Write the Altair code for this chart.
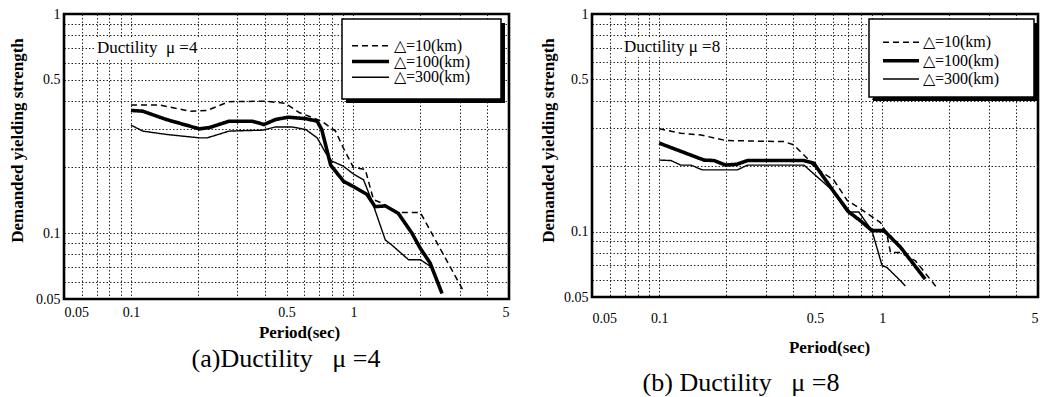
import altair as alt
import pandas as pd

SERIES = ["△=10(km)", "△=100(km)", "△=300(km)"]

# Panel (a) Ductility mu=4
A_T10 = [0.1, 0.135, 0.184, 0.22, 0.276, 0.4, 0.495, 0.57, 0.72, 0.83, 0.9, 1.0, 1.13, 1.23, 1.34, 1.59, 2.0, 3.1]
A_S10 = [0.384, 0.384, 0.36, 0.363, 0.398, 0.40, 0.391, 0.355, 0.324, 0.292, 0.245, 0.199, 0.195, 0.142, 0.137, 0.124, 0.124, 0.055]
A_T100 = [0.1, 0.113, 0.144, 0.203, 0.225, 0.276, 0.351, 0.396, 0.447, 0.51, 0.61, 0.687, 0.72, 0.79, 0.904, 1.0, 1.15, 1.25, 1.39, 1.59, 1.83, 2.0, 2.21, 2.5]
A_S100 = [0.363, 0.36, 0.33, 0.299, 0.303, 0.324, 0.324, 0.313, 0.33, 0.338, 0.333, 0.324, 0.297, 0.204, 0.172, 0.163, 0.150, 0.132, 0.133, 0.123, 0.1, 0.085, 0.073, 0.053]
A_T300 = [0.1, 0.113, 0.144, 0.203, 0.22, 0.276, 0.39, 0.447, 0.53, 0.61, 0.687, 0.75, 0.80, 0.90, 1.0, 1.11, 1.21, 1.39, 1.49, 1.77, 2.0, 2.24, 2.5]
A_S300 = [0.311, 0.292, 0.282, 0.272, 0.272, 0.292, 0.295, 0.305, 0.305, 0.297, 0.272, 0.232, 0.213, 0.202, 0.186, 0.175, 0.140, 0.093, 0.088, 0.0755, 0.0755, 0.070, 0.053]

# Panel (b) Ductility mu=8
B_T10 = [0.1, 0.125, 0.154, 0.199, 0.363, 0.402, 0.461, 0.494, 0.608, 0.697, 0.80, 0.983, 1.05, 1.09, 1.21, 1.41, 1.76]
B_S10 = [0.297, 0.283, 0.278, 0.262, 0.259, 0.250, 0.217, 0.199, 0.172, 0.139, 0.127, 0.110, 0.0975, 0.080, 0.080, 0.0734, 0.0552]
B_T100 = [0.1, 0.159, 0.176, 0.199, 0.224, 0.249, 0.446, 0.494, 0.608, 0.709, 0.80, 0.90, 1.02, 1.21, 1.56]
B_S100 = [0.255, 0.213, 0.212, 0.202, 0.204, 0.212, 0.212, 0.206, 0.152, 0.123, 0.112, 0.101, 0.101, 0.0846, 0.0604]
B_T300 = [0.1, 0.113, 0.125, 0.139, 0.156, 0.224, 0.249, 0.446, 0.597, 0.697, 0.786, 0.90, 1.0, 1.05, 1.21, 1.27]
B_S300 = [0.213, 0.212, 0.202, 0.202, 0.192, 0.192, 0.202, 0.202, 0.155, 0.123, 0.123, 0.101, 0.0696, 0.0684, 0.0593, 0.0562]

X_GRID = [0.05, 0.06, 0.07, 0.08, 0.09, 0.1, 0.2, 0.3, 0.4, 0.5, 0.6, 0.7, 0.8, 0.9, 1, 2, 3, 4, 5]
X_LABELS = [0.05, 0.1, 0.5, 1, 5]
Y_GRID = [0.05, 0.06, 0.07, 0.08, 0.09, 0.1, 0.2, 0.3, 0.4, 0.5, 0.6, 0.7, 0.8, 0.9, 1]
Y_LABELS = [0.05, 0.1, 0.5, 1]

SERIF = "Liberation Serif"
DASHES = [[6, 4], [1, 0], [1, 0]]
WIDTHS = [1.5, 3.6, 1.4]
NB = "\u00a0"

AXIS_STYLE = dict(domain=False, ticks=False, grid=True, gridColor="#111", gridDash=[1.5, 2],
                  gridWidth=1, gridOpacity=0.9,
                  labelFont=SERIF, labelFontSize=14, labelColor="black",
                  titleFont=SERIF, titleFontSize=17, titleFontWeight="bold", titleColor="black")


def panel(ts, ss, w, h, caption, cap_x, cap_y, inner, inner_box, leg, xl_pad, xt_x, xt_y, yt_x, yt_y):
    xlab = "indexof(" + str(X_LABELS) + ", datum.value) >= 0 ? toString(datum.value) : ''"
    ylab = "indexof(" + str(Y_LABELS) + ", datum.value) >= 0 ? toString(datum.value) : ''"
    x = alt.X("T:Q", scale=alt.Scale(type="log", domain=[0.05, 5], nice=False),
              axis=alt.Axis(values=X_GRID, labelExpr=xlab, title="Period(sec)",
                            labelPadding=xl_pad, titleX=xt_x, titleY=xt_y,
                            titleAlign="center", titleBaseline="middle", **AXIS_STYLE))
    y = alt.Y("S:Q", scale=alt.Scale(type="log", domain=[0.05, 1], nice=False),
              axis=alt.Axis(values=Y_GRID, labelExpr=ylab, title="Demanded yielding strength",
                            labelPadding=4, titleX=yt_x, titleY=yt_y, titleAngle=270,
                            titleAlign="center", titleBaseline="middle", **AXIS_STYLE))
    layers = []
    for k, (name, T, S) in enumerate(zip(SERIES, ts, ss)):
        df = pd.DataFrame({"T": T, "S": S, "idx": list(range(len(T))), "series": name})
        enc = dict(order="idx:Q")
        if k == 0:
            enc.update(x=x, y=y)
        else:
            enc.update(x="T:Q", y="S:Q")
        layers.append(alt.Chart(df).mark_line(color="black", strokeDash=DASHES[k],
                                              strokeWidth=WIDTHS[k]).encode(**enc))
    one = pd.DataFrame({"t": [caption]})
    border = alt.Chart(one).mark_rect(fill=None, stroke="black", strokeWidth=2.6).encode(
        x=alt.value(0), x2=alt.value(w), y=alt.value(0), y2=alt.value(h))
    cap = alt.Chart(one).mark_text(font=SERIF, fontSize=26, align="center", baseline="middle",
                                   color="black").encode(text="t:N", x=alt.value(cap_x), y=alt.value(cap_y))
    ix0, iy0, ix1, iy1 = inner_box
    inner_bg = alt.Chart(one).mark_rect(fill="white").encode(
        x=alt.value(ix0), x2=alt.value(ix1), y=alt.value(iy0), y2=alt.value(iy1))
    inner_txt = alt.Chart(pd.DataFrame({"t": [inner]})).mark_text(
        font=SERIF, fontSize=17, align="left", baseline="middle", color="black").encode(
        text="t:N", x=alt.value(ix0 + 2), y=alt.value((iy0 + iy1) / 2))
    bx0, by0, bx1, by1, lx0, lx1, tx, rows = leg
    shadow = alt.Chart(one).mark_rect(fill="black").encode(
        x=alt.value(bx0 + 4), x2=alt.value(bx1 + 4), y=alt.value(by0 + 4), y2=alt.value(by1 + 4))
    box = alt.Chart(one).mark_rect(fill="white", stroke="black", strokeWidth=1.5).encode(
        x=alt.value(bx0), x2=alt.value(bx1), y=alt.value(by0), y2=alt.value(by1))
    layers += [border, cap, inner_bg, inner_txt, shadow, box]
    for name, ry, dash, wd in zip(SERIES, rows, DASHES, WIDTHS):
        d = pd.DataFrame({"series": [name]})
        layers.append(alt.Chart(d).mark_rule(color="black", strokeDash=dash, strokeWidth=wd).encode(
            x=alt.value(lx0), x2=alt.value(lx1), y=alt.value(ry)))
        layers.append(alt.Chart(d).mark_text(font=SERIF, fontSize=16, align="left", baseline="middle",
                                             color="black").encode(
            text="series:N", x=alt.value(tx), y=alt.value(ry)))
    return alt.layer(*layers).properties(width=w, height=h)


pa = panel([A_T10, A_T100, A_T300], [A_S10, A_S100, A_S300], 445, 285,
           "(a)Ductility" + NB * 3 + "μ =4", 222, 345,
           "Ductility" + NB * 2 + "μ =4", (31, 24, 137, 44),
           (278, 5, 437, 85, 288, 325, 330, [31.7, 47.5, 63.3]),
           6, 235, 33, -47, 126)
pb = panel([B_T10, B_T100, B_T300], [B_S10, B_S100, B_S300], 446, 283,
           "(b) Ductility" + NB * 3 + "μ =8", 149, 369,
           "Ductility μ =8", (30, 23, 134, 43),
           (277, 5, 442, 83, 291, 327, 331, [28.3, 46.7, 65]),
           14, 237, 50, -44, 126)

chart = alt.hconcat(pa, pb, spacing=27).properties(
    padding={"left": 7, "top": 7, "right": 0, "bottom": 0}, background="white"
).configure_view(stroke=None)

chart.save("out.html", embed_options={"renderer": "svg", "actions": False})
